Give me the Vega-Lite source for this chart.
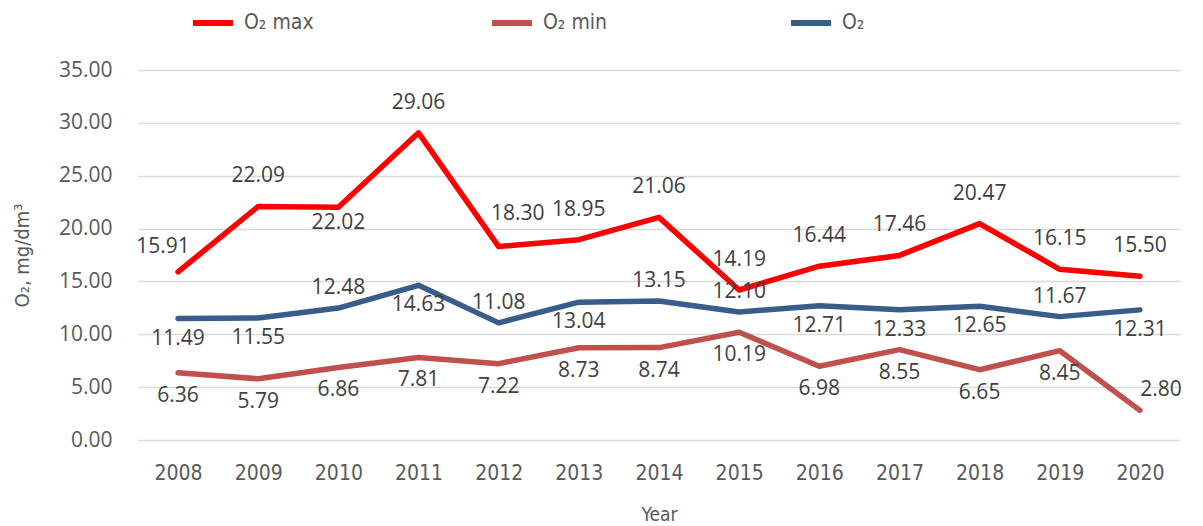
{
  "$schema": "https://vega.github.io/schema/vega-lite/v6.json",
  "width": 1042,
  "height": 370,
  "autosize": "none",
  "padding": {"left": 138, "top": 70, "right": 23, "bottom": 86},
  "background": "white",
  "config": {"view": {"stroke": null}, "font": "Open Sans"},
  "data": {
    "values": [
      {"year": 2008, "series": "O₂ max", "value": 15.91},
      {"year": 2009, "series": "O₂ max", "value": 22.09},
      {"year": 2010, "series": "O₂ max", "value": 22.02},
      {"year": 2011, "series": "O₂ max", "value": 29.06},
      {"year": 2012, "series": "O₂ max", "value": 18.30},
      {"year": 2013, "series": "O₂ max", "value": 18.95},
      {"year": 2014, "series": "O₂ max", "value": 21.06},
      {"year": 2015, "series": "O₂ max", "value": 14.19},
      {"year": 2016, "series": "O₂ max", "value": 16.44},
      {"year": 2017, "series": "O₂ max", "value": 17.46},
      {"year": 2018, "series": "O₂ max", "value": 20.47},
      {"year": 2019, "series": "O₂ max", "value": 16.15},
      {"year": 2020, "series": "O₂ max", "value": 15.50},
      {"year": 2008, "series": "O₂ min", "value": 6.36},
      {"year": 2009, "series": "O₂ min", "value": 5.79},
      {"year": 2010, "series": "O₂ min", "value": 6.86},
      {"year": 2011, "series": "O₂ min", "value": 7.81},
      {"year": 2012, "series": "O₂ min", "value": 7.22},
      {"year": 2013, "series": "O₂ min", "value": 8.73},
      {"year": 2014, "series": "O₂ min", "value": 8.74},
      {"year": 2015, "series": "O₂ min", "value": 10.19},
      {"year": 2016, "series": "O₂ min", "value": 6.98},
      {"year": 2017, "series": "O₂ min", "value": 8.55},
      {"year": 2018, "series": "O₂ min", "value": 6.65},
      {"year": 2019, "series": "O₂ min", "value": 8.45},
      {"year": 2020, "series": "O₂ min", "value": 2.80},
      {"year": 2008, "series": "O₂", "value": 11.49},
      {"year": 2009, "series": "O₂", "value": 11.55},
      {"year": 2010, "series": "O₂", "value": 12.48},
      {"year": 2011, "series": "O₂", "value": 14.63},
      {"year": 2012, "series": "O₂", "value": 11.08},
      {"year": 2013, "series": "O₂", "value": 13.04},
      {"year": 2014, "series": "O₂", "value": 13.15},
      {"year": 2015, "series": "O₂", "value": 12.10},
      {"year": 2016, "series": "O₂", "value": 12.71},
      {"year": 2017, "series": "O₂", "value": 12.33},
      {"year": 2018, "series": "O₂", "value": 12.65},
      {"year": 2019, "series": "O₂", "value": 11.67},
      {"year": 2020, "series": "O₂", "value": 12.31}
    ]
  },
  "encoding": {
    "x": {
      "field": "year",
      "type": "ordinal",
      "scale": {"type": "point", "padding": 0.5},
      "axis": {
        "labelAngle": 0,
        "domain": false,
        "ticks": false,
        "grid": false,
        "labelFont": "DejaVu Sans Condensed, Liberation Sans, sans-serif",
        "labelFontSize": 21,
        "labelColor": "#595959",
        "labelPadding": 22,
        "title": "Year",
        "titleFont": "DejaVu Sans Condensed, Liberation Sans, sans-serif",
        "titleFontSize": 19,
        "titleFontWeight": "normal",
        "titleColor": "#595959",
        "titlePadding": 22
      }
    },
    "y": {
      "field": "value",
      "type": "quantitative",
      "scale": {"domain": [0, 35], "nice": false},
      "axis": {
        "values": [0, 5, 10, 15, 20, 25, 30, 35],
        "format": ".2f",
        "domain": false,
        "ticks": false,
        "grid": true,
        "gridColor": "#D9D9D9",
        "gridWidth": 1.5,
        "labelFontSize": 21,
        "labelColor": "#595959",
        "labelPadding": 26,
        "title": "O₂, mg/dm³",
        "titleFont": "DejaVu Sans Condensed, Liberation Sans, sans-serif",
        "titleFontSize": 20,
        "titleFontWeight": "normal",
        "titleColor": "#595959",
        "titleX": -116,
        "titleY": 185,
        "titleAngle": -90,
        "titleAlign": "center",
        "titleBaseline": "middle"
      }
    }
  },
  "layer": [
    {
      "mark": {"type": "line", "strokeWidth": 5.5, "strokeJoin": "round", "strokeCap": "round"},
      "encoding": {
        "color": {
          "field": "series",
          "type": "nominal",
          "scale": {"domain": ["O₂ max", "O₂ min", "O₂"], "range": ["#FF0000", "#C0504D", "#385D8A"]},
          "legend": {
            "title": null,
            "orient": "none",
            "legendX": 52,
            "legendY": -70,
            "direction": "horizontal",
            "columns": 3,
            "gridAlign": "all",
            "columnPadding": 166,
            "symbolType": "stroke",
            "symbolSize": 1600,
            "symbolStrokeWidth": 6,
            "labelFont": "DejaVu Sans Condensed, Liberation Sans, sans-serif",
            "labelFontSize": 21,
            "labelColor": "#595959",
            "labelOffset": 8
          }
        }
      }
    },
    {
      "encoding": {
        "text": {"field": "value", "type": "quantitative", "format": ".2f"}
      },
      "layer": [
        {
          "transform": [{"filter": "datum.series === 'O₂ max' && datum.year !== 2008 && datum.year !== 2010 && datum.year !== 2012"}],
          "mark": {"type": "text", "fontSize": 21, "color": "#404040", "dy": -30}
        },
        {
          "transform": [{"filter": "datum.series === 'O₂ max' && datum.year === 2008"}],
          "mark": {"type": "text", "fontSize": 21, "color": "#404040", "dy": -25, "dx": -15}
        },
        {
          "transform": [{"filter": "datum.series === 'O₂ max' && datum.year === 2010"}],
          "mark": {"type": "text", "fontSize": 21, "color": "#404040", "dy": 16}
        },
        {
          "transform": [{"filter": "datum.series === 'O₂ max' && datum.year === 2012"}],
          "mark": {"type": "text", "fontSize": 21, "color": "#404040", "dy": -33, "dx": 19}
        },
        {
          "transform": [{"filter": "datum.series === 'O₂' && indexof([2010, 2012, 2014, 2015, 2019], datum.year) >= 0"}],
          "mark": {"type": "text", "fontSize": 21, "color": "#404040", "dy": -20}
        },
        {
          "transform": [{"filter": "datum.series === 'O₂' && indexof([2010, 2012, 2014, 2015, 2019], datum.year) < 0"}],
          "mark": {"type": "text", "fontSize": 21, "color": "#404040", "dy": 20}
        },
        {
          "transform": [{"filter": "datum.series === 'O₂ min' && datum.year !== 2020"}],
          "mark": {"type": "text", "fontSize": 21, "color": "#404040", "dy": 23}
        },
        {
          "transform": [{"filter": "datum.series === 'O₂ min' && datum.year === 2020"}],
          "mark": {"type": "text", "fontSize": 21, "color": "#404040", "dy": -20, "dx": 21}
        }
      ]
    }
  ]
}
